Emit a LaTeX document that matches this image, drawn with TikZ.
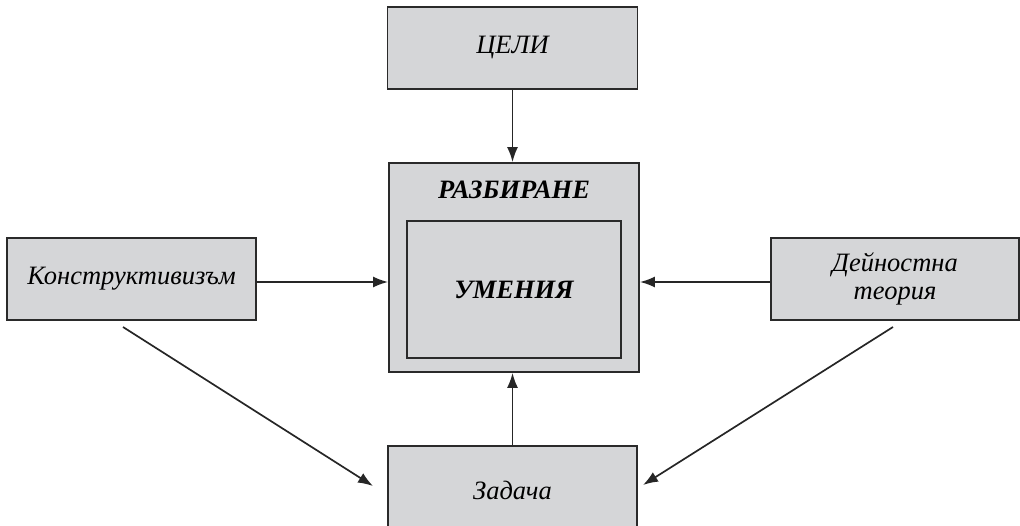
\documentclass[tikz,border=0pt]{standalone}
\usepackage{fontspec}
\setmainfont{Liberation Serif}
\usetikzlibrary{arrows.meta}
\definecolor{boxfill}{HTML}{D5D6D8}
\definecolor{boxline}{HTML}{2A2A2A}
\tikzset{
  box/.style={draw=boxline, fill=boxfill, line width=1.8pt, inner sep=0pt,
    font=\fontsize{26.5}{28}\selectfont\itshape, align=center},
  conn/.style={draw=black!85, line width=1.7pt, -{Latex[length=15pt,width=11pt]}}
}
\begin{document}
\begin{tikzpicture}[x=1pt,y=-1pt]
\useasboundingbox (0,0) rectangle (1020,526);
\begin{scope}
\clip (0,0) rectangle (1020,526);
\node[box, minimum width=250, minimum height=82] (goals) at (512.5,48) {ЦЕЛИ};
\node[box, minimum width=250, minimum height=209] (big) at (514,267.5) {};
\node[font=\fontsize{26.5}{28}\selectfont\bfseries\itshape] (lbl) at (514,190) {РАЗБИРАНЕ};
\node[box, minimum width=214, minimum height=137, font=\fontsize{26.5}{28}\selectfont\bfseries\itshape] (inner) at (514,289.5) {УМЕНИЯ};
\node[box, minimum width=249, minimum height=82] (konstr) at (131.5,279) {\raisebox{-3pt}{Конструктивизъм}};
\node[box, minimum width=248, minimum height=82] (deyn) at (895,279) {Дейностна\\теория};
\node[box, minimum width=249, minimum height=88] (task) at (512.5,490) {Задача};
\coordinate (k1) at (123,327);
\coordinate (k2) at (373,486);
\coordinate (d1) at (893,327);
\coordinate (d2) at (643,485);
\end{scope}
\draw[conn] (goals.south) -- (goals.south |- big.north);
\draw[conn] ([yshift=-3pt]konstr.east) -- ([yshift=-3pt]konstr.east -| big.west);
\draw[conn] ([yshift=-3pt]deyn.west) -- ([yshift=-3pt]deyn.west -| big.east);
\draw[conn] (task.north) -- (task.north |- big.south);
\draw[conn] (k1) -- (k2);
\draw[conn] (d1) -- (d2);
\end{tikzpicture}
\end{document}
